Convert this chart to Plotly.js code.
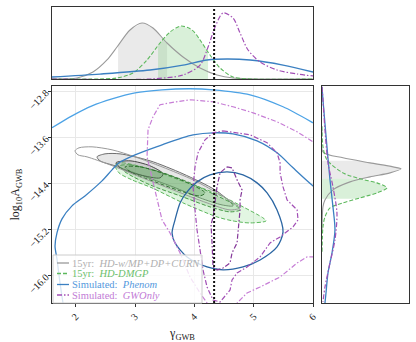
<!DOCTYPE html>
<html><head><meta charset="utf-8">
<script src="https://cdn.plot.ly/plotly-3.0.1.min.js"></script>
<style>html,body{margin:0;padding:0;background:#fff}#c{width:416px;height:342px}</style>
</head><body><div id="c"></div>
<script>
// ---------- data ----------
const GAMMA_REF = 4.333;
const xTickVals = [2, 3, 4, 5, 6];
const xTickText = ['2', '3', '4', '5', '6'];
const yTickVals = [-12.8, -13.6, -14.4, -15.2, -16.0];
const yTickText = ['\u221212.8', '\u221213.6', '\u221214.4', '\u221215.2', '\u221216.0'];

// main panel contours (gamma, log10A)
const phenomOuterX = [1.600, 1.937, 2.275, 2.612, 3.000, 3.455, 3.927, 4.315, 4.939, 5.495, 6.001, 6.12];
const phenomOuterY = [-13.426, -13.218, -13.044, -12.922, -12.818, -12.766, -12.748, -12.766, -12.853, -13.061, -13.339, -13.41];
const phenomMidX = [1.802, 1.785, 1.735, 1.684, 1.651, 1.684, 1.769, 1.937, 2.156, 2.443, 2.612, 2.730, 3.000, 3.455, 3.792, 3.978, 4.315, 4.652, 5.057, 5.394, 5.664, 6.001, 6.12];
const phenomMidY = [-16.592, -16.470, -16.122, -15.705, -15.479, -15.253, -15.009, -14.783, -14.609, -14.348, -14.157, -14.035, -13.896, -13.722, -13.600, -13.548, -13.513, -13.531, -13.652, -13.861, -14.122, -14.435, -14.52];
const phenomInnerX = [4.551, 4.821, 5.057, 5.226, 5.394, 5.495, 5.394, 5.108, 4.821, 4.484, 4.214, 3.877, 3.674, 3.624, 3.674, 3.759, 3.877, 4.045, 4.264, 4.551];
const phenomInnerY = [-14.192, -14.244, -14.383, -14.557, -14.853, -15.235, -15.496, -15.722, -15.844, -15.896, -15.844, -15.670, -15.426, -15.253, -15.026, -14.731, -14.540, -14.366, -14.244, -14.192];

const gwOuterX = [4.248, 4.214, 4.096, 3.927, 3.759, 3.590, 3.455, 3.371, 3.286, 3.202, 3.219, 3.303, 3.421, 3.590, 3.927, 4.315, 4.652, 4.990, 5.394, 5.732, 6.001, 6.12,
  null, 4.67, 4.720, 4.888, 5.108, 5.445, 5.732, 5.900, 6.001, 6.12];
const gwOuterY = [-16.592, -16.470, -16.296, -16.018, -15.600, -15.253, -15.026, -14.679, -14.331, -13.931, -13.461, -13.235, -13.026, -12.992, -12.939, -12.974, -13.061, -13.166, -13.322, -13.496, -13.670, -13.74,
  null, -16.592, -16.470, -16.296, -16.192, -16.018, -15.774, -15.670, -15.670, -15.65];
const gwMidX = [4.484, 4.720, 4.939, 5.226, 5.394, 5.445, 5.445, 5.495, 5.563, 5.732, 5.748, 5.664, 5.445, 5.276, 5.108, 4.888, 4.720, 4.635, 4.602, 4.433, 4.315, 4.214, 4.146, 4.096, 4.045, 4.011, 3.978, 4.011, 4.062, 4.180, 4.315, 4.484];
const gwMidY = [-13.479, -13.513, -13.548, -13.687, -13.861, -14.035, -14.209, -14.453, -14.679, -14.853, -15.026, -15.148, -15.322, -15.426, -15.670, -15.844, -15.948, -16.070, -16.244, -16.453, -16.418, -16.192, -15.896, -15.548, -15.200, -14.853, -14.453, -14.105, -13.861, -13.635, -13.513, -13.479];
const gwInnerX = [4.551, 4.635, 4.720, 4.804, 4.770, 4.770, 4.720, 4.635, 4.602, 4.484, 4.382, 4.315, 4.298, 4.281, 4.315, 4.349, 4.382, 4.433, 4.551];
const gwInnerY = [-14.105, -14.122, -14.331, -14.505, -14.679, -14.853, -15.426, -15.600, -15.774, -15.861, -15.896, -15.844, -15.426, -15.113, -14.974, -14.679, -14.453, -14.209, -14.105];

const hdOuterX = [1.988, 2.055, 2.275, 2.612, 3.000, 3.455, 3.978, 4.382, 4.686, 4.770, 4.602, 4.214, 3.641, 3.084, 2.578, 2.190, 2.038, 1.988];
const hdOuterY = [-13.826, -13.774, -13.757, -13.809, -13.931, -14.105, -14.331, -14.557, -14.748, -14.818, -14.853, -14.731, -14.505, -14.279, -14.070, -13.931, -13.896, -13.826];
const hdMidX = [2.359, 2.494, 2.747, 3.253, 3.809, 4.349, 4.602, 4.652, 4.467, 4.096, 3.641, 3.084, 2.662, 2.409, 2.359];
const hdMidY = [-13.931, -13.879, -13.879, -14.000, -14.226, -14.505, -14.713, -14.783, -14.766, -14.644, -14.453, -14.244, -14.087, -14.000, -13.931];
const hdInnerX = [2.679, 2.915, 3.253, 3.472, 3.421, 3.084, 2.780, 2.679];
const hdInnerY = [-14.035, -14.000, -14.087, -14.226, -14.296, -14.244, -14.140, -14.035];

const dmOuterX = [2.662, 2.780, 3.286, 3.742, 4.382, 4.821, 5.158, 5.209, 4.939, 4.652, 4.382, 3.809, 3.286, 2.949, 2.730, 2.662];
const dmOuterY = [-14.070, -14.035, -14.157, -14.331, -14.574, -14.800, -14.992, -15.044, -15.079, -15.044, -14.974, -14.731, -14.470, -14.331, -14.209, -14.070];
const dmMidX = [2.747, 2.915, 3.421, 3.927, 4.349, 4.686, 4.770, 4.602, 4.264, 3.759, 3.253, 2.831, 2.747];
const dmMidY = [-14.087, -14.070, -14.192, -14.383, -14.592, -14.766, -14.853, -14.887, -14.800, -14.609, -14.418, -14.192, -14.087];
const dmInnerX = [2.831, 3.084, 3.506, 3.927, 4.180, 4.096, 3.759, 3.337, 2.949, 2.831];
const dmInnerY = [-14.105, -14.105, -14.226, -14.400, -14.557, -14.609, -14.522, -14.366, -14.209, -14.105];

// top marginal (gamma, density)
const hdMargX = [1.6, 2.022, 2.291, 2.527, 2.696, 2.915, 3.118, 3.303, 3.539, 3.809, 4.096, 4.382, 4.652, 5.2, 6.0];
const hdMargV = [0.0, 0.014, 0.097, 0.264, 0.444, 0.681, 0.778, 0.708, 0.5, 0.306, 0.153, 0.056, 0.014, 0.0, 0.0];
const hdBandX = [2.713, 2.713, 2.915, 3.118, 3.303, 3.539, 3.539];
const hdBandV = [0, 0.45, 0.681, 0.778, 0.708, 0.5, 0];
const dmMargX = [1.6, 2.4, 2.696, 2.966, 3.202, 3.421, 3.590, 3.775, 3.961, 4.096, 4.264, 4.433, 4.652, 4.939, 6.0];
const dmMargV = [0, 0.0, 0.014, 0.083, 0.264, 0.5, 0.653, 0.736, 0.681, 0.542, 0.333, 0.153, 0.028, 0.0, 0];
const dmBandX = [3.388, 3.388, 3.421, 3.590, 3.775, 3.961, 4.096, 4.231, 4.231];
const dmBandV = [0, 0.47, 0.5, 0.653, 0.736, 0.681, 0.542, 0.38, 0];
const gwMargX = [1.6, 3.253, 3.809, 4.096, 4.231, 4.349, 4.484, 4.652, 4.770, 4.905, 5.108, 5.394, 5.732, 6.001];
const gwMargV = [0, 0.0, 0.056, 0.194, 0.444, 0.722, 0.917, 0.847, 0.639, 0.403, 0.236, 0.125, 0.069, 0.042];
const phMargX = [1.6, 2.409, 3.253, 3.809, 4.214, 4.551, 4.939, 5.495, 6.001];
const phMargV = [0.028, 0.069, 0.125, 0.194, 0.264, 0.278, 0.264, 0.194, 0.097];

// right marginal (density, log10A)
const hdRightD = [0, 0.011, 0.241, 0.552, 0.816, 0.908, 0.782, 0.552, 0.322, 0.126, 0.034, 0.011, 0];
const hdRightY = [-13.461, -13.844, -13.948, -14.035, -14.105, -14.140, -14.209, -14.279, -14.366, -14.505, -14.679, -14.800, -15.2];
const hdRBandD = [0, 0.43, 0.552, 0.816, 0.908, 0.782, 0.552, 0.46, 0];
const hdRBandY = [-14.000, -14.000, -14.035, -14.105, -14.140, -14.209, -14.279, -14.313, -14.313];
const dmRightD = [0, 0.011, 0.057, 0.241, 0.437, 0.632, 0.747, 0.632, 0.437, 0.241, 0.092, 0.034, 0.011, 0];
const dmRightY = [-13.4, -13.757, -13.983, -14.209, -14.313, -14.383, -14.470, -14.557, -14.644, -14.731, -14.818, -14.974, -15.148, -15.6];
const dmRBandD = [0, 0.437, 0.632, 0.747, 0.632, 0.437, 0.40, 0];
const dmRBandY = [-14.313, -14.313, -14.383, -14.470, -14.557, -14.644, -14.661, -14.661];
const gwRightD = [0, 0.011, 0.034, 0.069, 0.126, 0.172, 0.149, 0.092, 0.034, 0.011];
const gwRightY = [-12.713, -12.939, -13.461, -14.035, -14.453, -14.905, -15.374, -15.774, -16.192, -16.453];
const phRightD = [0, 0.011, 0.057, 0.092, 0.126, 0.149, 0.115, 0.069, 0.046, 0.034];
const phRightY = [-12.713, -12.939, -13.757, -14.331, -14.800, -15.200, -15.600, -15.948, -16.296, -16.470];

const legendLabels = ['15yr:  <i>HD-w/MP+DP+CURN</i>', '15yr:  <i>HD-DMGP</i>', 'Simulated:  <i>Phenom</i>', 'Simulated:  <i>GWOnly</i>'];

// ---------- styles ----------
const C = {
  grayLine: '#9a9a9a', grayMid: '#6e6e6e', grayDark: '#484848',
  green: '#5cb85c', greenMid: '#4a9a4a', greenDark: '#2f6f2f',
  blueLight: '#4da3e6', blue: '#3b80c2', blueDark: '#2b66a3',
  purpleLight: '#c77ed6', purple: '#a24fb6', purpleDark: '#85389a'
};
const GWDASH = '5px,2px,1.5px,2px';
const DMDASH = '4px,2px';

function ln(x, y, ax, color, width, dash, extra) {
  return Object.assign({x, y, xaxis: 'x' + ax, yaxis: 'y' + ax, mode: 'lines', type: 'scatter',
    line: {color, width, dash: dash || 'solid'}, hoverinfo: 'skip', showlegend: false}, extra || {});
}
function sp(color, width, dash) { return {color, width, dash: dash || 'solid', shape: 'spline', smoothing: 0.8}; }

const traces = [
  // main fills
  ln(hdMidX, hdMidY, '', C.grayMid, 1, null, {fill: 'toself', fillcolor: 'rgba(170,170,170,0.28)', line: sp(C.grayMid, 1)}),
  ln(dmOuterX, dmOuterY, '', C.green, 1, DMDASH, {fill: 'toself', fillcolor: 'rgba(140,220,140,0.25)', line: sp(C.green, 1, DMDASH)}),
  ln(hdInnerX, hdInnerY, '', C.grayDark, 1, null, {fill: 'toself', fillcolor: 'rgba(110,110,110,0.22)', line: sp(C.grayDark, 1)}),
  ln(dmMidX, dmMidY, '', C.greenMid, 1, DMDASH, {fill: 'toself', fillcolor: 'rgba(100,180,100,0.22)', line: sp(C.greenMid, 1, DMDASH)}),
  ln(dmInnerX, dmInnerY, '', C.greenDark, 1, DMDASH, {fill: 'toself', fillcolor: 'rgba(70,140,70,0.22)', line: sp(C.greenDark, 1, DMDASH)}),
  ln(hdOuterX, hdOuterY, '', C.grayLine, 1, null, {line: sp(C.grayLine, 1)}),
  // main lines
  ln(phenomOuterX, phenomOuterY, '', C.blueLight, 1.3, null, {line: sp(C.blueLight, 1.3)}),
  ln(phenomMidX, phenomMidY, '', C.blue, 1.3, null, {line: sp(C.blue, 1.3)}),
  ln(phenomInnerX, phenomInnerY, '', C.blueDark, 1.3, null, {line: sp(C.blueDark, 1.3)}),
  ln(gwOuterX, gwOuterY, '', C.purpleLight, 1.2, GWDASH, {connectgaps: false}),
  ln(gwMidX, gwMidY, '', C.purple, 1.2, GWDASH),
  ln(gwInnerX, gwInnerY, '', C.purpleDark, 1.2, GWDASH),
  // top marginal
  ln(hdBandX, hdBandV, '2', 'rgba(0,0,0,0)', 0, null, {fill: 'toself', fillcolor: 'rgba(160,160,160,0.22)'}),
  ln(dmBandX, dmBandV, '2', 'rgba(0,0,0,0)', 0, null, {fill: 'toself', fillcolor: 'rgba(120,200,120,0.28)'}),
  ln(hdMargX, hdMargV, '2', C.grayLine, 1.1, null, {line: sp(C.grayLine, 1.1)}),
  ln(dmMargX, dmMargV, '2', C.green, 1.1, DMDASH, {line: sp(C.green, 1.1, DMDASH)}),
  ln(phMargX, phMargV, '2', C.blue, 1.3, null, {line: sp(C.blue, 1.3)}),
  ln(gwMargX, gwMargV, '2', C.purple, 1.2, GWDASH, {line: sp(C.purple, 1.2, GWDASH)}),
  // right marginal
  ln(hdRBandD, hdRBandY, '3', 'rgba(0,0,0,0)', 0, null, {fill: 'toself', fillcolor: 'rgba(160,160,160,0.22)'}),
  ln(dmRBandD, dmRBandY, '3', 'rgba(0,0,0,0)', 0, null, {fill: 'toself', fillcolor: 'rgba(120,200,120,0.28)'}),
  ln(hdRightD, hdRightY, '3', C.grayLine, 1.1, null, {line: sp(C.grayLine, 1.1)}),
  ln(dmRightD, dmRightY, '3', C.green, 1.1, DMDASH, {line: sp(C.green, 1.1, DMDASH)}),
  ln(phRightD, phRightY, '3', C.blue, 1.3, null, {line: sp(C.blue, 1.3)}),
  ln(gwRightD, gwRightY, '3', C.purple, 1.2, GWDASH, {line: sp(C.purple, 1.2, GWDASH)})
];

const FONT = 'Liberation Serif, DejaVu Serif, serif';
const W = 416, H = 342;
const px = v => v / W, py = v => 1 - v / H;

const frame = {showline: true, mirror: true, linecolor: '#333', linewidth: 1, zeroline: false};
const layout = {
  width: W, height: H, margin: {l: 0, r: 0, t: 0, b: 0},
  paper_bgcolor: '#fff', plot_bgcolor: '#fff', showlegend: false,
  font: {family: FONT, size: 10, color: '#222'},
  xaxis: Object.assign({}, frame, {domain: [px(52), px(313)], range: [1.6, 6.0], anchor: 'y',
    tickvals: xTickVals, ticktext: xTickText, tickangle: -45, ticks: 'outside', ticklen: 3, tickcolor: '#333',
    showgrid: true, gridcolor: '#e8e8e8', gridwidth: 1,
    title: {text: '\u03b3<sub>GWB</sub>', font: {size: 12, family: FONT}, standoff: 10}}),
  yaxis: Object.assign({}, frame, {domain: [1 - 303 / H, 1 - 86 / H], range: [-16.47, -12.70], anchor: 'x',
    tickvals: yTickVals, ticktext: yTickText, tickangle: -45, ticks: 'outside', ticklen: 3, tickcolor: '#333',
    showgrid: true, gridcolor: '#e8e8e8', gridwidth: 1,
    title: {text: 'log<sub>10</sub>A<sub>GWB</sub>', font: {size: 12, family: FONT}, standoff: 4}}),
  xaxis2: Object.assign({}, frame, {domain: [px(52), px(313)], range: [1.6, 6.0], anchor: 'y2',
    showticklabels: false, showgrid: false, ticks: ''}),
  yaxis2: Object.assign({}, frame, {domain: [1 - 79 / H, 1 - 7 / H], range: [0, 1], anchor: 'x2',
    showticklabels: false, showgrid: false, ticks: ''}),
  xaxis3: Object.assign({}, frame, {domain: [px(322), px(409)], range: [0, 1], anchor: 'y3',
    showticklabels: false, showgrid: false, ticks: ''}),
  yaxis3: Object.assign({}, frame, {domain: [1 - 303 / H, 1 - 86 / H], range: [-16.47, -12.70], anchor: 'x3',
    showticklabels: false, showgrid: false, ticks: ''}),
  shapes: [
    {type: 'line', xref: 'x', yref: 'y domain', x0: GAMMA_REF, x1: GAMMA_REF, y0: 0, y1: 1, line: {color: '#111', width: 2, dash: '2px,2px'}},
    {type: 'line', xref: 'x2', yref: 'y2 domain', x0: GAMMA_REF, x1: GAMMA_REF, y0: 0, y1: 1, line: {color: '#111', width: 2, dash: '2px,2px'}},
    {type: 'rect', xref: 'paper', yref: 'paper', x0: px(53), x1: px(202), y0: py(303), y1: py(255),
      fillcolor: 'rgba(255,255,255,0.8)', line: {color: '#cccccc', width: 1}}
  ],
  annotations: []
};
const legRows = [263, 273.5, 284.5, 295];
const legColors = [C.grayLine, C.green, C.blue, C.purple];
const legText = ['#b0b0b0', '#6cc06c', '#5599dd', '#c27bd6'];
const legDash = ['solid', DMDASH, 'solid', GWDASH];
legRows.forEach((r, i) => {
  layout.shapes.push({type: 'line', xref: 'paper', yref: 'paper', x0: px(57), x1: px(69), y0: py(r), y1: py(r),
    line: {color: legColors[i], width: 1.3, dash: legDash[i]}});
  layout.annotations.push({xref: 'paper', yref: 'paper', x: px(70), y: py(r), xanchor: 'left', yanchor: 'middle',
    text: legendLabels[i], showarrow: false, font: {family: FONT, size: 10.5, color: legText[i]}});
});

Plotly.newPlot('c', traces, layout, {staticPlot: true});
</script></body></html>
